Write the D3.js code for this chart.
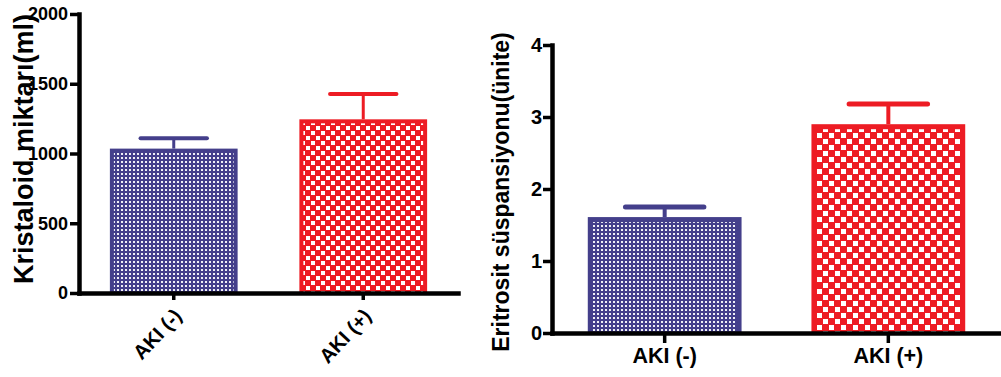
<!DOCTYPE html>
<html>
<head>
<meta charset="utf-8">
<script src="https://cdn.jsdelivr.net/npm/d3@7"></script>
<style>
  html, body { margin: 0; padding: 0; background: #fff; }
  svg text { font-family: "Liberation Sans", Arial, sans-serif; font-weight: bold; fill: #000; }
</style>
</head>
<body>
<svg id="chart" width="1001" height="377"></svg>
<script>
// Groups
const categories = ["AKI (-)", "AKI (+)"];

// Crystalloid volume (ml): mean and SEM per group
const kristaloidMean = [1035, 1245];
const kristaloidSem = [75, 182];
const kristaloidTicks = [0, 500, 1000, 1500, 2000];

// Erythrocyte suspension (units): mean and SEM per group
const eritrositMean = [1.61, 2.90];
const eritrositSem = [0.14, 0.28];
const eritrositTicks = [0, 1, 2, 3, 4];

const BLUE = "#443f8b";
const RED = "#ed1c24";

const svg = d3.select("#chart");
svg.append("rect").attr("width", 1001).attr("height", 377).attr("fill", "#fff");

// Fill patterns: fine dots for the blue group, coarse checks for the red group
const defs = svg.append("defs");
function dotPattern(id, color, tile, sq) {
  const p = defs.append("pattern").attr("id", id)
    .attr("patternUnits", "userSpaceOnUse").attr("width", tile).attr("height", tile);
  p.append("rect").attr("width", tile).attr("height", tile).attr("fill", color);
  p.append("rect").attr("x", 1).attr("y", 1).attr("width", sq).attr("height", sq)
    .attr("fill", "#fff").attr("opacity", 0.92);
}
function checkPattern(id, color, tile, sq) {
  const p = defs.append("pattern").attr("id", id)
    .attr("patternUnits", "userSpaceOnUse").attr("width", tile).attr("height", tile);
  p.append("rect").attr("width", tile).attr("height", tile).attr("fill", color);
  p.append("rect").attr("x", 1).attr("y", 1).attr("width", sq).attr("height", sq).attr("fill", "#fff");
  p.append("rect").attr("x", 1 + tile / 2).attr("y", 1 + tile / 2).attr("width", sq).attr("height", sq).attr("fill", "#fff");
}
dotPattern("dotsL", BLUE, 4, 2);
dotPattern("dotsR", BLUE, 4, 2);
checkPattern("checkL", RED, 10, 4);
checkPattern("checkR", RED, 12, 5);

function drawPanel(opts) {
  const g = svg.append("g");
  const x = d3.scaleBand().domain(categories)
    .range([opts.x0, opts.x1]).paddingInner(opts.padInner).paddingOuter(opts.padOuter);
  const y = d3.scaleLinear().domain([opts.ticks[0], opts.ticks[opts.ticks.length - 1]])
    .range([opts.y0, opts.y1]);

  const colors = [BLUE, RED];
  const fills = opts.fills;
  const border = opts.border;

  // Error bars (mean + SEM), drawn first so the bar sits on top of the stem
  categories.forEach((c, i) => {
    const cx = x(c) + x.bandwidth() / 2;
    const top = y(opts.mean[i] + opts.sem[i]);
    g.append("line").attr("x1", cx).attr("x2", cx)
      .attr("y1", y(opts.mean[i])).attr("y2", top)
      .attr("stroke", colors[i]).attr("stroke-width", opts.stemW);
    const hw = x.bandwidth() * opts.capFrac / 2;
    g.append("line").attr("x1", cx - hw).attr("x2", cx + hw)
      .attr("y1", top).attr("y2", top)
      .attr("stroke", colors[i]).attr("stroke-width", opts.capW)
      .attr("stroke-linecap", "round");
  });

  // Bars: solid border band with patterned interior
  categories.forEach((c, i) => {
    const bx = x(c), bw = x.bandwidth();
    const by = y(opts.mean[i]), bh = y(0) - by;
    g.append("rect").attr("x", bx).attr("y", by).attr("width", bw).attr("height", bh)
      .attr("fill", colors[i]);
    g.append("rect").attr("x", bx + border).attr("y", by + border)
      .attr("width", bw - 2 * border).attr("height", Math.max(0, bh - border))
      .attr("fill", `url(#${fills[i]})`);
  });

  // Y axis
  const yAxis = d3.axisLeft(y).tickValues(opts.ticks).tickFormat(d3.format("d"))
    .tickSize(opts.yTickLen).tickSizeOuter(0).tickPadding(opts.yTickPad);
  const ya = g.append("g").attr("transform", `translate(${opts.x0},0)`).call(yAxis);
  ya.select(".domain").attr("stroke", "#000").attr("stroke-width", 4.5)
    .attr("stroke-linecap", "square");
  ya.selectAll(".tick line").attr("stroke", "#000").attr("stroke-width", 3.5);
  ya.selectAll(".tick text")
    .style("font-size", opts.yFont + "px")
    .style("font-weight", "bold")
    .style("fill", "#000");

  // X axis
  const xAxis = d3.axisBottom(x).tickSize(opts.xTickLen).tickSizeOuter(0).tickFormat("");
  const xa = g.append("g").attr("transform", `translate(0,${opts.y0})`).call(xAxis);
  xa.select(".domain").attr("stroke", "#000").attr("stroke-width", 4.5)
    .attr("stroke-linecap", "square");
  xa.selectAll(".tick line").attr("stroke", "#000").attr("stroke-width", 3.5);

  // X labels
  categories.forEach(c => {
    const cx = x(c) + x.bandwidth() / 2;
    if (opts.rotate) {
      g.append("text").attr("text-anchor", "end")
        .style("font-size", opts.xFont + "px")
        .attr("transform", `translate(${cx + 9},${opts.y0 + 24}) rotate(-47)`)
        .text(c);
    } else {
      g.append("text").attr("text-anchor", "middle")
        .style("font-size", opts.xFont + "px")
        .attr("x", cx).attr("y", opts.y0 + 30)
        .text(c);
    }
  });

  // Y title
  g.append("text").attr("text-anchor", "middle")
    .style("font-size", opts.titleFont + "px")
    .attr("transform", `translate(${opts.titleX},${opts.titleY}) rotate(-90)`)
    .text(opts.title);
}

drawPanel({
  x0: 79, x1: 458, y0: 293, y1: 14,
  padInner: 0.326, padOuter: 0.163,
  ticks: kristaloidTicks, mean: kristaloidMean, sem: kristaloidSem,
  fills: ["dotsL", "checkL"], border: 4,
  stemW: 3, capW: 4, capFrac: 0.52,
  yTickLen: 9, yTickPad: 2, yFont: 18,
  xTickLen: 7, xFont: 20, rotate: true,
  title: "Kristaloid miktarı(ml)", titleFont: 27, titleX: 33, titleY: 149
});

drawPanel({
  x0: 552, x1: 1001, y0: 333, y1: 45,
  padInner: 0.3125, padOuter: 0.16,
  ticks: eritrositTicks, mean: eritrositMean, sem: eritrositSem,
  fills: ["dotsR", "checkR"], border: 5,
  stemW: 4, capW: 5, capFrac: 0.51,
  yTickLen: 9, yTickPad: 1, yFont: 20,
  xTickLen: 10, xFont: 21.5, rotate: false,
  title: "Eritrosit süspansiyonu(ünite)", titleFont: 23, titleX: 509, titleY: 192
});
</script>
</body>
</html>
